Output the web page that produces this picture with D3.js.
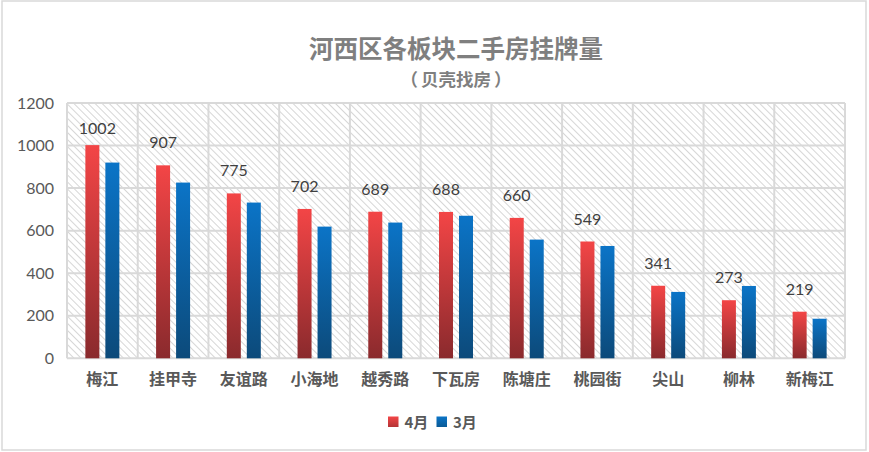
<!DOCTYPE html>
<html><head><meta charset="utf-8">
<script src="https://cdn.jsdelivr.net/npm/d3@7/dist/d3.min.js"></script>
<style>
html,body{margin:0;padding:0;background:#fff;}
svg{display:block;}
</style></head>
<body>
<svg id="chart" width="869" height="452"></svg>
<script>
const categories = ["梅江","挂甲寺","友谊路","小海地","越秀路","下瓦房","陈塘庄","桃园街","尖山","柳林","新梅江"];
const april = [1002,907,775,702,689,688,660,549,341,273,219];
const march = [920,826,732,619,638,670,558,528,312,340,186];
const yTicks = [0,200,400,600,800,1000,1200];
const seriesNames = ["4月","3月"];
const titleText = "河西区各板块二手房挂牌量";
const subtitleParts = ["（","贝壳找房","）"];

const svg = d3.select("#chart");
const W = 869, H = 452;
const m = {left:67, right:869-845, top:103, bottom:452-358.3};
const pw = W - m.left - m.right, ph = H - m.top - m.bottom;

const defs = svg.append("defs");
const pat = defs.append("pattern").attr("id","hatch").attr("patternUnits","userSpaceOnUse")
  .attr("width",5).attr("height",5).attr("patternTransform","rotate(45)");
pat.append("rect").attr("width",5).attr("height",5).attr("fill","#fff");
pat.append("line").attr("x1",0).attr("y1",0).attr("x2",5).attr("y2",0)
  .attr("stroke","#d2d2d2").attr("stroke-width",1.8);

function grad(id, top, bottom){
  const g = defs.append("linearGradient").attr("id",id).attr("x1",0).attr("y1",0).attr("x2",0).attr("y2",1);
  g.append("stop").attr("offset","0%").attr("stop-color",top);
  g.append("stop").attr("offset","100%").attr("stop-color",bottom);
}
grad("gRed","#f34546","#8a2a2d");
grad("gBlue","#0b74c7","#0c4a7a");
grad("gRedL","#f34546","#b43436");
grad("gBlueL","#0b74c7","#0a5a96");

svg.append("rect").attr("x",2).attr("y",1).attr("width",864).attr("height",449)
  .attr("fill","#fff").attr("stroke","#d9d9d9").attr("stroke-width",1.5);

const g = svg.append("g").attr("transform",`translate(${m.left},${m.top})`);

const x = d3.scaleBand().domain(categories).range([0,pw]).paddingInner(0).paddingOuter(0);
const y = d3.scaleLinear().domain([0,1200]).range([ph,0]);
const barW = 14, gap = 6;

g.append("rect").attr("width",pw).attr("height",ph).attr("fill","url(#hatch)");

g.selectAll(".hg").data(yTicks).join("line")
  .attr("x1",0).attr("x2",pw).attr("y1",d=>y(d)).attr("y2",d=>y(d))
  .attr("stroke","#d9d9d9").attr("stroke-width",2);
const bounds = categories.map(c=>x(c)).concat([pw]);
g.selectAll(".vg").data(bounds).join("line")
  .attr("x1",d=>d).attr("x2",d=>d).attr("y1",0).attr("y2",ph)
  .attr("stroke","#d9d9d9").attr("stroke-width",2);

const yAxis = d3.axisLeft(y).tickValues(yTicks).tickFormat(d3.format("d")).tickSize(0).tickPadding(13);
const ya = g.append("g").call(yAxis);
ya.select(".domain").remove();
ya.selectAll("text").attr("font-family","Lato, 'Open Sans', sans-serif").attr("font-size",16).attr("fill","#595959");

const xAxis = d3.axisBottom(x).tickSize(0).tickPadding(15);
const xa = g.append("g").attr("transform",`translate(0,${ph})`).call(xAxis);
xa.select(".domain").remove();
xa.selectAll("text").attr("font-family","'Noto Sans CJK SC', sans-serif").attr("font-size",16)
  .attr("font-weight","bold").attr("fill","#595959");

const cx = c => x(c) + x.bandwidth()/2;
g.selectAll(".ra").data(categories).join("rect")
  .attr("x",(c)=>cx(c)-gap/2-barW).attr("width",barW)
  .attr("y",(c,i)=>y(april[i])).attr("height",(c,i)=>ph-y(april[i]))
  .attr("fill","url(#gRed)");
g.selectAll(".rb").data(categories).join("rect")
  .attr("x",(c)=>cx(c)+gap/2).attr("width",barW)
  .attr("y",(c,i)=>y(march[i])).attr("height",(c,i)=>ph-y(march[i]))
  .attr("fill","url(#gBlue)");

g.selectAll(".lb").data(categories).join("text")
  .attr("x",(c,i)=>cx(c)-gap/2-barW/2+(april[i]>1000?5:0))
  .attr("y",(c,i)=>Math.max(y(april[i])-17,31))
  .attr("text-anchor","middle").attr("font-family","Lato, 'Open Sans', sans-serif")
  .attr("font-size",16).attr("fill","#404040")
  .text((c,i)=>april[i]);

const tcx = m.left + pw/2;
svg.append("text").attr("x",tcx).attr("y",58).attr("text-anchor","middle")
  .attr("font-family","'Noto Sans CJK SC', sans-serif").attr("font-weight","bold")
  .attr("font-size",24.5).attr("fill","#7f7f7f").text(titleText);
const sub = svg.append("text").attr("x",tcx).attr("y",86).attr("text-anchor","middle")
  .attr("font-family","'Noto Sans CJK SC', sans-serif").attr("font-weight","bold")
  .attr("font-size",17.5).attr("fill","#7f7f7f");
subtitleParts.forEach((p,i)=>{
  sub.append("tspan").attr("dx", i===0?0:3).text(p);
});

const legX = [388, 436.5];
const legFills = ["url(#gRedL)","url(#gBlueL)"];
const lg = svg.append("g");
seriesNames.forEach((n,i)=>{
  lg.append("rect").attr("x",legX[i]).attr("y",416.5).attr("width",10.5).attr("height",10.5).attr("fill",legFills[i]);
  lg.append("text").attr("x",legX[i]+16.5).attr("y",428).attr("font-family","'Noto Sans CJK SC', sans-serif")
    .attr("font-weight","bold").attr("font-size",15).attr("fill","#595959").text(n);
});
</script>
</body></html>
